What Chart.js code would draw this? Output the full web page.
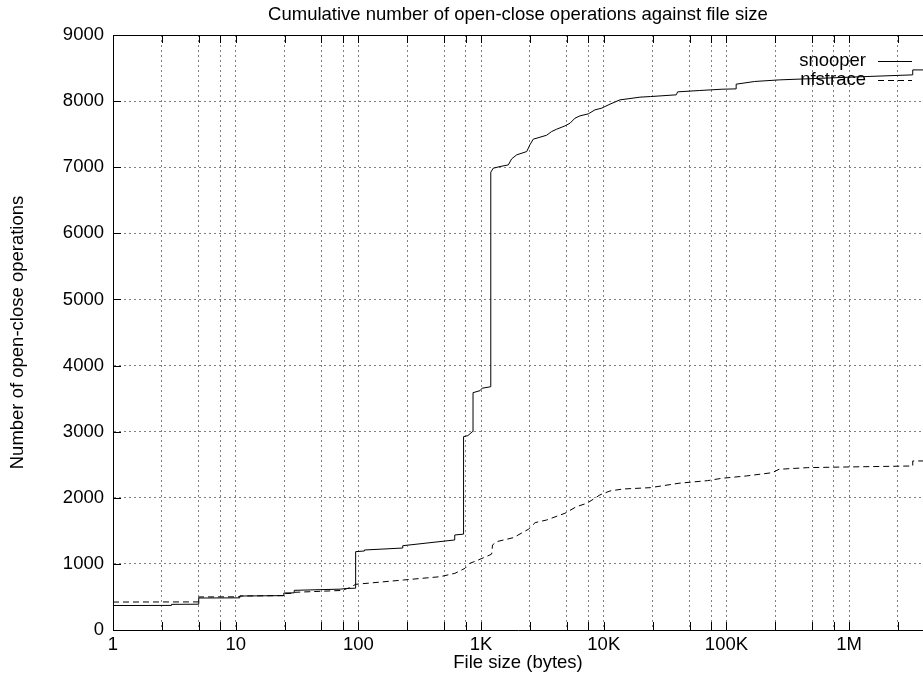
<!DOCTYPE html>
<html><head><meta charset="utf-8">
<script src="https://cdn.jsdelivr.net/npm/chart.js@4.4.1/dist/chart.umd.min.js"></script>
<style>html,body{margin:0;padding:0;background:#fff;overflow:hidden}</style>
</head><body>
<canvas id="c" width="923" height="680"></canvas>
<script>
// ---------- data ----------
const chartTitle = 'Cumulative number of open-close operations against file size';
const xAxisTitle = 'File size (bytes)';
const yAxisTitle = 'Number of open-close operations';
const seriesNames = ['snooper', 'nfstrace'];

const snooperSize = [1, 3, 3, 5, 5, 10.8, 10.8, 24.7, 24.7, 30, 30, 71, 80, 95, 95, 112, 112, 230, 230, 610, 610, 720, 720, 780, 850, 860, 860, 980, 1020, 1200, 1200, 1257, 1426, 1667, 1775, 1950, 2355, 2500, 2663, 3020, 3425, 3760, 4130, 4830, 5310, 5830, 6400, 7480, 8480, 9610, 10230, 11240, 13560, 16360, 19720, 24000, 39000, 40000, 60000, 92000, 120000, 120000, 170000, 270000, 1400000, 3300000, 3300000, 4000000];
const snooperCount = [370, 372, 388, 390, 484, 486, 514, 520, 560, 562, 600, 618, 628, 632, 1185, 1195, 1210, 1240, 1275, 1362, 1437, 1450, 2925, 2940, 3000, 3000, 3590, 3620, 3657, 3680, 6925, 6985, 7010, 7035, 7126, 7187, 7237, 7338, 7424, 7454, 7484, 7540, 7575, 7625, 7666, 7742, 7777, 7807, 7868, 7893, 7918, 7954, 8019, 8039, 8060, 8069, 8095, 8140, 8160, 8180, 8185, 8256, 8297, 8321, 8372, 8397, 8472, 8472];

const nfstraceSize = [1, 5, 5, 10.8, 10.8, 24.7, 24.7, 30, 30, 73, 85, 95, 232, 462, 612, 739, 812, 949, 1181, 1220, 1240, 1340, 1835, 2430, 2760, 3425, 4830, 6000, 7300, 9300, 11240, 14400, 24000, 41000, 70000, 92000, 145000, 237000, 268000, 460000, 960000, 3300000, 3300000, 4000000];
const nfstraceCount = [423, 425, 500, 502, 514, 520, 550, 555, 570, 598, 640, 691, 756, 806, 857, 933, 1009, 1059, 1135, 1150, 1286, 1336, 1397, 1523, 1624, 1664, 1766, 1866, 1917, 2043, 2103, 2133, 2153, 2220, 2259, 2295, 2330, 2380, 2431, 2456, 2466, 2481, 2557, 2557];

const xMajorTicks = [1, 10, 100, 1000, 10000, 100000, 1000000];
const xTickLabels = ['1', '10', '100', '1K', '10K', '100K', '1M'];
const xMinorFactors = [2.5, 5, 7.5];
const xMin = 1, xMax = 4000000;
const yTicks = [0, 1000, 2000, 3000, 4000, 5000, 6000, 7000, 8000, 9000];

// ---------- helpers ----------
const FONT = "'Liberation Sans', Arial, Helvetica, sans-serif";
const FS = 18.5;
const toPts = (xs, ys) => xs.map((x, i) => ({x: x, y: ys[i]}));
const xGrid = [];
xMajorTicks.forEach(m => {
  xGrid.push(m);
  xMinorFactors.forEach(f => { if (m * f <= xMax) xGrid.push(m * f); });
});
const labelFor = v => {
  const i = xMajorTicks.findIndex(m => Math.abs(m - v) / m < 1e-9);
  return i >= 0 ? xTickLabels[i] : '';
};

// gnuplot-like frame: top border, inward tick marks, key
const gpFrame = {
  id: 'gpFrame',
  afterDatasetsDraw(chart) {
    const {ctx, chartArea: a, scales: {x, y}} = chart;
    ctx.save();
    ctx.strokeStyle = '#000';
    ctx.lineWidth = 1;
    ctx.setLineDash([]);
    ctx.beginPath();
    ctx.moveTo(a.left, a.top + 0.5); ctx.lineTo(a.right, a.top + 0.5);
    const TL = 8;
    x.ticks.forEach(t => {
      const px = Math.round(x.getPixelForValue(t.value)) + 0.5;
      ctx.moveTo(px, a.bottom); ctx.lineTo(px, a.bottom - TL);
      ctx.moveTo(px, a.top); ctx.lineTo(px, a.top + TL);
    });
    y.ticks.forEach(t => {
      const py = Math.round(y.getPixelForValue(t.value)) + 0.5;
      ctx.moveTo(a.left, py); ctx.lineTo(a.left + TL, py);
    });
    ctx.stroke();

    // key (top right, text right-aligned, sample to the right)
    ctx.font = FS + 'px ' + FONT;
    ctx.fillStyle = '#000';
    ctx.textAlign = 'right';
    ctx.textBaseline = 'middle';
    const textRight = a.right - 57;
    const sx0 = a.right - 45, sx1 = a.right - 11;
    chart.data.datasets.forEach((ds, i) => {
      const yy = a.top + 26 + i * 19;
      ctx.fillText(ds.label, textRight, yy);
      ctx.setLineDash(ds.borderDash || []);
      ctx.beginPath();
      ctx.moveTo(sx0, Math.round(yy) + 0.5); ctx.lineTo(sx1, Math.round(yy) + 0.5);
      ctx.stroke();
    });
    ctx.restore();
  }
};

new Chart(document.getElementById('c'), {
  type: 'line',
  data: {
    datasets: [
      {label: seriesNames[0], data: toPts(snooperSize, snooperCount), borderColor: '#000', borderWidth: 1, pointRadius: 0, fill: false, tension: 0},
      {label: seriesNames[1], data: toPts(nfstraceSize, nfstraceCount), borderColor: '#000', borderWidth: 1, borderDash: [6, 4], pointRadius: 0, fill: false, tension: 0}
    ]
  },
  options: {
    responsive: false,
    animation: false,
    devicePixelRatio: 1,
    layout: {padding: {left: 0, right: 0, top: 0, bottom: 0}},
    plugins: {
      legend: {display: false},
      tooltip: {enabled: false},
      title: {display: true, fullSize: false, text: chartTitle, color: '#000', font: {family: FONT, size: FS, weight: 'normal', lineHeight: 1.2}, padding: {top: 4, bottom: 8.8}}
    },
    scales: {
      x: {
        type: 'logarithmic', position: 'bottom', min: xMin, max: xMax,
        afterBuildTicks: s => { s.ticks = xGrid.map(v => ({value: v, major: labelFor(v) !== ''})); },
        afterFit: s => { s.height = 50; },
        ticks: {autoSkip: false, maxRotation: 0, minRotation: 0, color: '#000', padding: 4, font: {family: FONT, size: FS}, callback: v => labelFor(v)},
        grid: {color: '#808080', lineWidth: 1, drawTicks: false},
        border: {display: true, color: '#000', width: 1, dash: [2, 3]},
        title: {display: true, text: xAxisTitle, color: '#000', font: {family: FONT, size: FS}, padding: {top: 0, bottom: 6}}
      },
      y: {
        type: 'linear', min: 0, max: 9000,
        afterBuildTicks: s => { s.ticks = yTicks.map(v => ({value: v})); },
        afterFit: s => { s.width = 113; },
        ticks: {color: '#000', padding: 9, font: {family: FONT, size: FS}, callback: v => String(v)},
        grid: {color: '#808080', lineWidth: 1, drawTicks: false},
        border: {display: true, color: '#000', width: 1, dash: [2, 3]},
        title: {display: true, text: yAxisTitle, color: '#000', font: {family: FONT, size: FS}, padding: {top: 7, bottom: 0}}
      }
    }
  },
  plugins: [gpFrame]
});
</script>
</body></html>
